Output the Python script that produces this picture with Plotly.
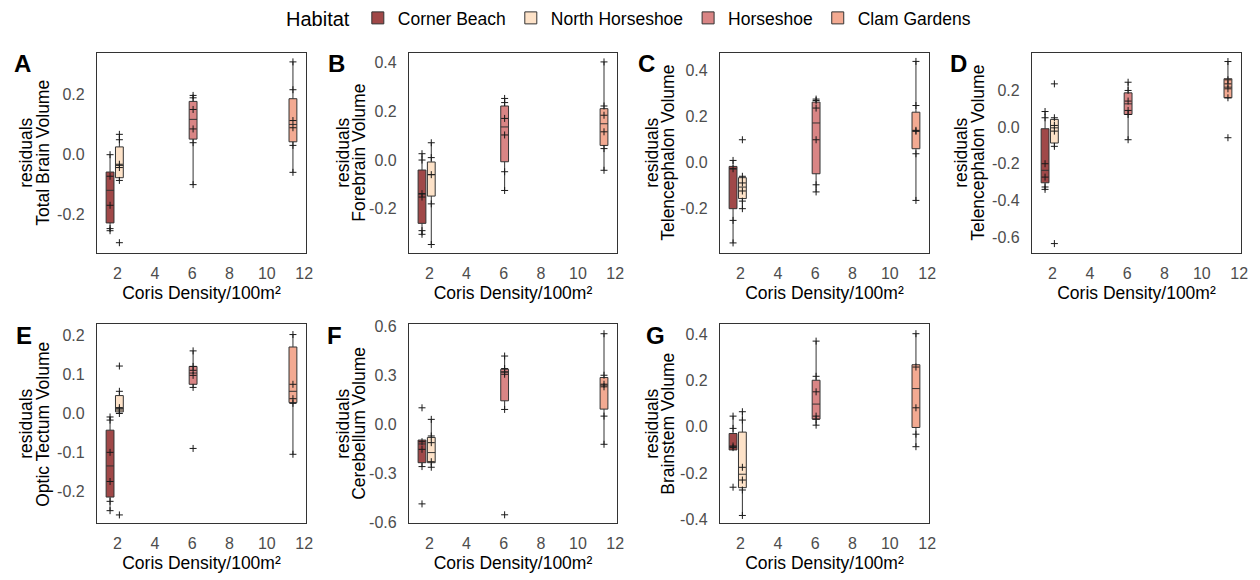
import plotly.graph_objects as go

# ---------------- data ----------------
habitats = ["Corner Beach", "North Horseshoe", "Horseshoe", "Clam Gardens"]
density = [1.6, 2.1, 6.05, 11.4]          # Coris density per 100 m2 (box positions)
fills = ["#a04848", "#fde2c8", "#d98585", "#f3aa92"]

panel_letters = ["A", "B", "C", "D", "E", "F", "G"]
panel_names = ["Total Brain Volume", "Forebrain Volume", "Telencephalon Volume",
               "Telencephalon Volume", "Optic Tectum Volume", "Cerebellum Volume",
               "Brainstem Volume"]
y_prefix = "residuals"
x_title = "Coris Density/100m²"

x_tickvals = [2, 4, 6, 8, 10, 12]
x_ticktext = ["2", "4", "6", "8", "10", "12"]

# Box statistics per panel, order = habitats
A_q1 = [-0.228, -0.077, 0.052, 0.043]
A_med = [-0.119, -0.036, 0.118, 0.101]
A_q3 = [-0.058, 0.026, 0.178, 0.187]
A_lo = [-0.254, -0.086, -0.100, -0.059]
A_hi = [0.000, 0.068, 0.198, 0.310]
A_pts = [[0.0, -0.072, -0.169, -0.247, -0.254],
         [0.068, 0.05, -0.032, -0.043, -0.086, -0.294],
         [0.198, 0.19, 0.151, 0.086, 0.04, -0.1],
         [0.31, 0.217, 0.114, 0.09, 0.031, -0.059]]

B_q1 = [-0.26, -0.148, -0.007, 0.06]
B_med = [-0.14, -0.06, 0.136, 0.149]
B_q3 = [-0.041, -0.008, 0.222, 0.211]
B_lo = [-0.31, -0.347, -0.125, -0.042]
B_hi = [0.026, 0.071, 0.253, 0.403]
B_pts = [[0.026, 0.0, -0.138, -0.152, -0.29, -0.305],
         [0.071, 0.01, -0.06, -0.18, -0.347],
         [0.253, 0.236, 0.171, 0.103, -0.048, -0.125],
         [0.403, 0.222, 0.184, 0.116, 0.047, -0.042]]

C_q1 = [-0.203, -0.159, -0.051, 0.058]
C_med = [-0.03, -0.109, 0.17, 0.135]
C_q3 = [-0.019, -0.068, 0.261, 0.217]
C_lo = [-0.352, -0.203, -0.13, -0.167]
C_hi = [0.007, -0.062, 0.274, 0.438]
C_pts = [[0.007, -0.029, -0.254, -0.352],
         [0.097, -0.062, -0.091, -0.126, -0.17, -0.203],
         [0.274, 0.268, 0.235, 0.097, -0.099, -0.13],
         [0.438, 0.246, 0.138, 0.134, 0.036, -0.167]]

D_q1 = [-0.304, -0.087, 0.069, 0.16]
D_med = [-0.236, -0.004, 0.127, 0.218]
D_q3 = [-0.009, 0.042, 0.187, 0.264]
D_lo = [-0.34, -0.113, -0.069, 0.155]
D_hi = [0.085, 0.051, 0.245, 0.358]
D_pts = [[0.085, 0.051, -0.2, -0.273, -0.327, -0.34],
         [0.236, 0.051, 0.009, -0.022, -0.105, -0.636],
         [0.245, 0.2, 0.142, 0.091, 0.069, -0.069],
         [0.358, 0.258, 0.236, 0.209, 0.16, -0.058]]

E_q1 = [-0.215, 0.004, 0.075, 0.028]
E_med = [-0.135, 0.013, 0.104, 0.057]
E_q3 = [-0.043, 0.046, 0.121, 0.171]
E_lo = [-0.25, 0.0, 0.067, -0.105]
E_hi = [-0.009, 0.057, 0.161, 0.203]
E_pts = [[-0.009, -0.017, -0.1, -0.175, -0.226, -0.25],
         [0.122, 0.057, 0.015, 0.009, 0.0, -0.261],
         [0.161, 0.121, 0.111, 0.098, 0.067, -0.09],
         [0.203, 0.075, 0.038, 0.026, -0.105]]

F_q1 = [-0.235, -0.235, 0.145, 0.094]
F_med = [-0.12, -0.173, 0.322, 0.241]
F_q3 = [-0.096, -0.08, 0.339, 0.288]
F_lo = [-0.259, -0.263, 0.092, -0.122]
F_hi = [-0.096, 0.031, 0.42, 0.557]
F_pts = [[0.102, -0.106, -0.153, -0.259, -0.488],
         [0.031, -0.071, -0.112, -0.229, -0.263],
         [0.42, 0.343, 0.322, 0.308, 0.092, -0.555],
         [0.557, 0.302, 0.247, 0.231, 0.051, -0.122]]

G_q1 = [-0.1, -0.263, 0.033, -0.003]
G_med = [-0.086, -0.205, 0.098, 0.165]
G_q3 = [-0.029, -0.023, 0.201, 0.268]
G_lo = [-0.1, -0.383, 0.007, -0.086]
G_hi = [0.046, 0.065, 0.37, 0.402]
G_pts = [[0.046, -0.007, -0.083, -0.09, -0.261],
         [0.065, 0.029, -0.175, -0.23, -0.273, -0.383],
         [0.37, 0.218, 0.151, 0.046, 0.033, 0.007],
         [0.402, 0.258, 0.082, -0.032, -0.086]]

y_tickvals = [[-0.2, 0.0, 0.2],
              [-0.2, 0.0, 0.2, 0.4],
              [-0.2, 0.0, 0.2, 0.4],
              [-0.6, -0.4, -0.2, 0.0, 0.2],
              [-0.2, -0.1, 0.0, 0.1, 0.2],
              [-0.6, -0.3, 0.0, 0.3, 0.6],
              [-0.4, -0.2, 0.0, 0.2, 0.4]]
y_ticktext = [["-0.2", "0.0", "0.2"],
              ["-0.2", "0.0", "0.2", "0.4"],
              ["-0.2", "0.0", "0.2", "0.4"],
              ["-0.6", "-0.4", "-0.2", "0.0", "0.2"],
              ["-0.2", "-0.1", "0.0", "0.1", "0.2"],
              ["-0.6", "-0.3", "0.0", "0.3", "0.6"],
              ["-0.4", "-0.2", "0.0", "0.2", "0.4"]]

stats = [(A_q1, A_med, A_q3, A_lo, A_hi, A_pts),
         (B_q1, B_med, B_q3, B_lo, B_hi, B_pts),
         (C_q1, C_med, C_q3, C_lo, C_hi, C_pts),
         (D_q1, D_med, D_q3, D_lo, D_hi, D_pts),
         (E_q1, E_med, E_q3, E_lo, E_hi, E_pts),
         (F_q1, F_med, F_q3, F_lo, F_hi, F_pts),
         (G_q1, G_med, G_q3, G_lo, G_hi, G_pts)]

# ---------------- layout geometry (pixels) ----------------
W, H = 1260, 580
panel_px = [(97, 306, 52, 252), (409, 617, 52, 252), (720, 929, 52, 252), (1032, 1241, 52, 252),
            (97, 306, 324, 523), (409, 617, 324, 523), (720, 929, 324, 523)]
y_ranges = [(-0.327, 0.34), (-0.38, 0.44), (-0.394, 0.475), (-0.685, 0.405),
            (-0.282, 0.229), (-0.606, 0.614), (-0.416, 0.442)]
letter_pos = [(12, 63), (326, 63), (636, 63), (948, 63), (14, 335), (325, 335), (644, 335)]
# x centres of the two rotated title lines ("residuals", measure name)
ytitle_x = [(26, 43), (343, 359), (652, 668), (961, 978), (26, 43), (343, 359), (652, 668)]

FONT = "Liberation Sans, Arial, sans-serif"
fig = go.Figure()
layout = dict(
    width=W, height=H, margin=dict(l=0, r=0, t=0, b=0),
    paper_bgcolor="white", plot_bgcolor="white",
    font=dict(family=FONT, color="black"),
    boxmode="overlay", showlegend=True,
    legend=dict(orientation="h", x=0.5, xanchor="center", y=1 - 17 / H, yanchor="middle",
                title=dict(text="Habitat", side="left", font=dict(size=20)),
                font=dict(size=17.5), bgcolor="rgba(0,0,0,0)", itemclick=False),
    annotations=[],
)

for p in range(7):
    q1, med, q3, lo, hi, pts = stats[p]
    ax = "" if p == 0 else str(p + 1)
    xr, yr = "x" + ax, "y" + ax
    for h in range(4):
        fig.add_trace(go.Box(
            x=[density[h]], q1=[q1[h]], median=[med[h]], q3=[q3[h]],
            lowerfence=[lo[h]], upperfence=[hi[h]],
            width=0.42, whiskerwidth=0, boxpoints=False,
            fillcolor=fills[h], line=dict(color="#333333", width=1),
            name=habitats[h], legendgroup=habitats[h], showlegend=(p == 0),
            xaxis=xr, yaxis=yr, hoverinfo="skip"))
    for h in range(4):
        fig.add_trace(go.Scatter(
            x=[density[h]] * len(pts[h]), y=pts[h], mode="markers",
            marker=dict(symbol="cross-thin", size=5, line=dict(color="#1a1a1a", width=1)),
            showlegend=False, xaxis=xr, yaxis=yr, hoverinfo="skip"))

    x0, x1, y0, y1 = panel_px[p]
    common = dict(showgrid=False, zeroline=False, showline=True, mirror=True,
                  linecolor="#333333", linewidth=1.2, ticks="", automargin=False,
                  tickfont=dict(size=16, color="#4d4d4d", family=FONT))
    layout["xaxis" + ax] = dict(common, domain=[x0 / W, x1 / W], anchor=yr,
                                range=[0.9, 12.1], tickmode="array",
                                tickvals=x_tickvals, ticktext=x_ticktext,
                                ticklabelstandoff=6,
                                title=dict(text=x_title, standoff=5,
                                           font=dict(size=17.5, color="black")))
    layout["yaxis" + ax] = dict(common, domain=[1 - y1 / H, 1 - y0 / H], anchor=xr,
                                range=list(y_ranges[p]), tickmode="array",
                                tickvals=y_tickvals[p], ticktext=y_ticktext[p],
                                ticklabelstandoff=8)
    ymid = 1 - (y0 + y1) / 2 / H
    for txt, tx in zip([y_prefix, panel_names[p]], ytitle_x[p]):
        layout["annotations"].append(dict(
            text=txt, xref="paper", yref="paper", x=tx / W, y=ymid,
            xanchor="center", yanchor="middle", textangle=-90, showarrow=False,
            font=dict(size=17.5, color="black", family=FONT)))
    lx, ly = letter_pos[p]
    layout["annotations"].append(dict(
        text="<b>" + panel_letters[p] + "</b>", xref="paper", yref="paper",
        x=lx / W, y=1 - ly / H, xanchor="left", yanchor="middle", showarrow=False,
        font=dict(size=24, color="black", family=FONT)))

fig.update_layout(**layout)
fig.write_html("out.html")
